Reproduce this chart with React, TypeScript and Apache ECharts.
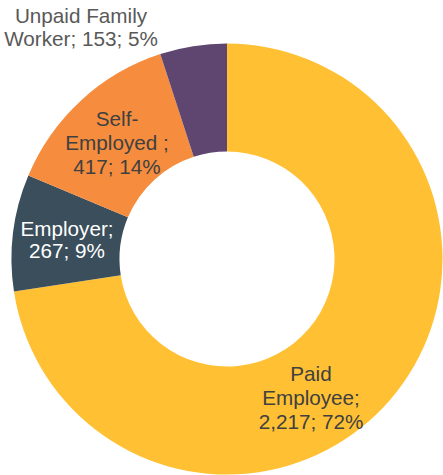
import React, { useEffect, useRef } from "react";
import * as echarts from "echarts";

const categories = ["Paid Employee", "Employer", "Self-Employed", "Unpaid Family Worker"];
const values = [2217, 267, 417, 153];
const colors = ["#FFC133", "#3A4E5B", "#F68D3E", "#5E4671"];
const labelTemplates = [
  "Paid\nEmployee;\n{c}; {d}%",
  "Employer;\n{c}; {d}%",
  "Self-\nEmployed ;\n{c}; {d}%",
  "Unpaid Family\nWorker; {c}; {d}%",
];
const labelColors = ["#404040", "#FFFFFF", "#404040", "#595959"];
const labelCenters: [number, number][] = [
  [311, 397],
  [67, 239],
  [117, 142],
  [81, 27],
];
const labelLineHeights = [24, 22, 24, 23];

export default function App() {
  const ref = useRef<HTMLDivElement>(null);
  useEffect(() => {
    if (!ref.current) return;
    const chart = echarts.init(ref.current, undefined, { renderer: "svg" });
    chart.setOption({
      animation: false,
      backgroundColor: "#ffffff",
      series: [
        {
          type: "pie",
          center: [227, 259],
          radius: [107.5, 215.5],
          startAngle: 90,
          clockwise: true,
          percentPrecision: 0,
          avoidLabelOverlap: false,
          labelLine: { show: false },
          emphasis: { disabled: true },
          data: categories.map((name, i) => ({
            name,
            value: values[i],
            itemStyle: { color: colors[i], borderWidth: 0 },
            label: {
              show: true,
              position: "inside",
              color: labelColors[i],
              fontSize: 20.7,
              lineHeight: labelLineHeights[i],
              fontFamily: "Liberation Sans, Arial, sans-serif",
              align: "center",
              verticalAlign: "middle",
              formatter: (p: any) =>
                labelTemplates[i]
                  .replace("{c}", Number(p.value).toLocaleString("en-US"))
                  .replace("{d}", String(p.percent)),
            },
          })),
          labelLayout: (params: any) => {
            const c = labelCenters[params.dataIndex];
            return { x: c[0], y: c[1], align: "center", verticalAlign: "middle" };
          },
        },
      ],
    });
    return () => chart.dispose();
  }, []);
  return (
    <div
      ref={ref}
      style={{ position: "fixed", left: 0, top: 0, width: 443, height: 475 }}
    />
  );
}
